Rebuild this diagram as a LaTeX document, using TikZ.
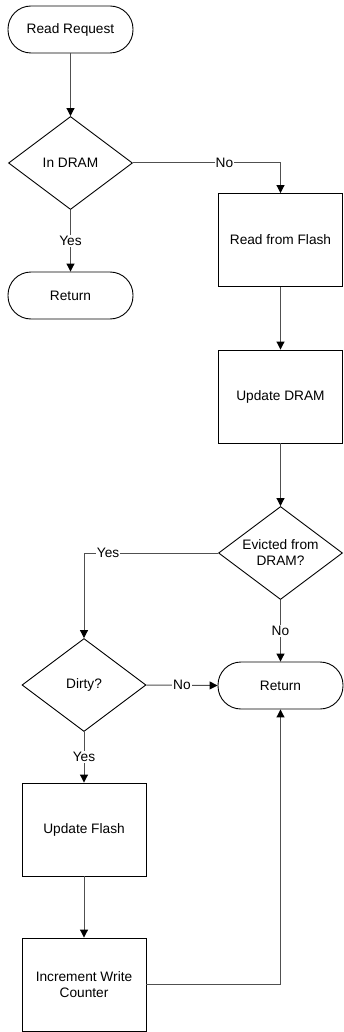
\documentclass[tikz,border=0pt]{standalone}
\usepackage{fontspec}
\setmainfont{Liberation Sans}
\usetikzlibrary{shapes.geometric,arrows.meta}
\definecolor{linkgray}{RGB}{80,80,80}
\tikzset{
  every node/.style={font=\fontsize{13.7}{16}\selectfont},
  pill/.style={draw=black, line width=0.9pt, rectangle, rounded corners=23pt,
    minimum width=125pt, minimum height=47pt, inner sep=0pt},
  procbox/.style={draw=black, line width=0.9pt, rectangle,
    minimum width=124pt, minimum height=93pt, inner sep=0pt, align=center},
  decide/.style={draw=black, line width=0.9pt, diamond, aspect=1.333,
    minimum width=124pt, minimum height=93pt, inner sep=0pt, align=center},
  link/.style={draw=linkgray, line width=1pt,
    -{Triangle[length=8pt,width=8pt,color=black]}},
  plain/.style={draw=linkgray, line width=1pt},
  tag/.style={fill=white, inner sep=1pt, text=black}
}
\begin{document}
\begin{tikzpicture}[x=1pt, y=-1pt]
  \useasboundingbox (0,0) rectangle (344,1032);

  % upper path
  \node[pill]    (req)   at (70.5,29.5)  {Read Request};
  \node[decide]  (indram) at (70.5,163)  {In DRAM};
  \node[pill]    (ret1)  at (70.5,295.5) {Return};
  \node[procbox] (rdf)   at (280.5,240)  {Read from Flash};
  \node[procbox] (upd)   at (280.5,396.5) {Update DRAM};
  \node[decide]  (evict) at (280.5,553)  {Evicted from\\DRAM?};

  % lower path
  \node[decide]  (dirty) at (84,685)     {Dirty?};
  \node[pill]    (ret2)  at (280.5,685.5) {Return};
  \node[procbox] (updf)  at (84,829.5)   {Update Flash};
  \node[procbox] (incw)  at (84,984.5)   {Increment Write\\Counter};

  % connectors
  \draw[link] (req) -- (indram);
  \draw[link] (indram.east) -| node[tag, pos=0.31] {No} (rdf.north);
  \draw[link] (indram.south) -- node[tag] {Yes} (ret1.north);
  \draw[link] (rdf) -- (upd);
  \draw[link] (upd) -- (evict);
  \draw[link] (evict.west) -| node[tag, pos=0.41] {Yes} (dirty.north);
  \draw[link] (evict.south) -- node[tag] {No} (ret2.north);
  \draw[link] (dirty.east) -- node[tag] {No} (ret2.west);
  \draw[link] (dirty.south) -- node[tag] {Yes} (updf.north);
  \draw[link] (updf) -- (incw);
  \draw[link] (incw.east) -| (ret2.south);
\end{tikzpicture}
\end{document}
